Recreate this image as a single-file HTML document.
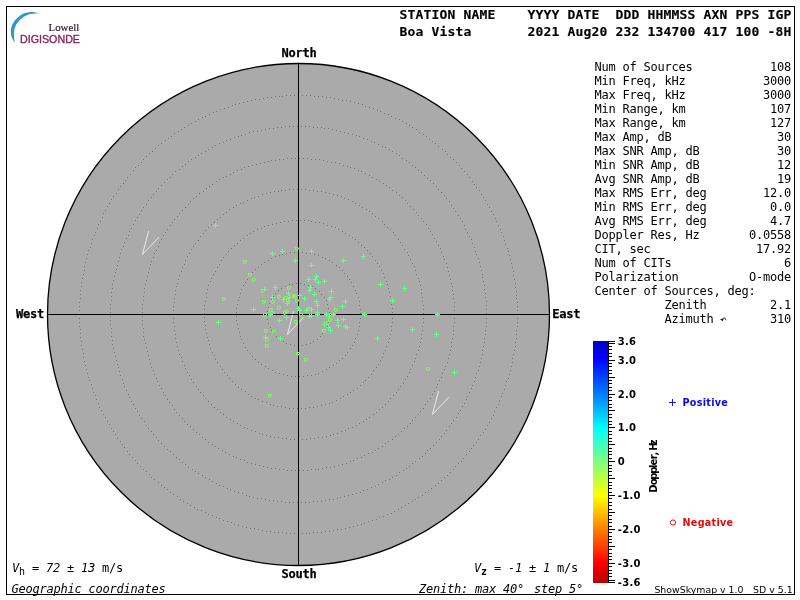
<!DOCTYPE html>
<html lang="en"><head><meta charset="utf-8"><title>Digisonde Skymap - Boa Vista</title>
<style>
html,body{margin:0;padding:0;background:#fff;width:800px;height:600px;overflow:hidden}
svg{display:block;will-change:transform}
.m{font-family:"DejaVu Sans Mono","Liberation Mono",monospace;font-size:12px;letter-spacing:-0.2246px;fill:#000;white-space:pre}
.mb{font-family:"DejaVu Sans Mono","Liberation Mono",monospace;font-size:12px;font-weight:bold;letter-spacing:-0.2246px;fill:#000;stroke:#000;stroke-width:0.25px;white-space:pre}
.h{font-family:"DejaVu Sans Mono","Liberation Mono",monospace;font-size:13px;font-weight:bold;letter-spacing:0.1738px;fill:#000;stroke:#000;stroke-width:0.15px;white-space:pre}
.i{font-style:oblique}
.sb{font-family:"DejaVu Sans","Liberation Sans",sans-serif;font-size:10px;font-weight:bold;fill:#000}
.s{font-family:"DejaVu Sans","Liberation Sans",sans-serif;font-size:9.4px;fill:#000}
</style></head><body>
<svg width="800" height="600" viewBox="0 0 800 600">
<defs>
<linearGradient id="jet" x1="0" y1="0" x2="0" y2="1">
<stop offset="0.0000" stop-color="rgb(0,0,195)"/>
<stop offset="0.0694" stop-color="rgb(0,0,255)"/>
<stop offset="0.2222" stop-color="rgb(0,128,255)"/>
<stop offset="0.3611" stop-color="rgb(0,255,255)"/>
<stop offset="0.5000" stop-color="rgb(128,255,128)"/>
<stop offset="0.6389" stop-color="rgb(255,255,0)"/>
<stop offset="0.7778" stop-color="rgb(255,128,0)"/>
<stop offset="0.9167" stop-color="rgb(255,0,0)"/>
<stop offset="1.0000" stop-color="rgb(185,0,0)"/>
</linearGradient>
</defs>
<rect x="0" y="0" width="800" height="600" fill="#fff"/>
<circle cx="298.5" cy="314.5" r="251.0" fill="#aaaaaa" stroke="#000" stroke-width="1.3"/>
<path d="M329 314.5h1M329 318.5h1M328 322.5h1M327 326.5h1M325 330.5h1M322 333.5h1M320 336.5h1M317 339.5h1M313 341.5h1M310 343.5h1M306 344.5h1M302 345.5h1M298 345.5h1M294 345.5h1M290 344.5h1M286 343.5h1M283 341.5h1M280 339.5h1M276 336.5h1M274 333.5h1M271 330.5h1M270 327.5h1M268 323.5h1M267 319.5h1M267 315.5h1M267 311.5h1M268 307.5h1M269 303.5h1M271 299.5h1M273 296.5h1M275 293.5h1M278 290.5h1M281 288.5h1M285 286.5h1M289 284.5h1M292 284.5h1M296 283.5h1M300 283.5h1M304 284.5h1M308 285.5h1M312 286.5h1M315 288.5h1M319 291.5h1M321 294.5h1M324 297.5h1M326 300.5h1M327 304.5h1M328 308.5h1M329 312.5h1M360 314.5h1M360 318.5h1M359 322.5h1M359 326.5h1M358 330.5h1M357 334.5h1M355 338.5h1M354 342.5h1M352 345.5h1M350 348.5h1M347 352.5h1M345 355.5h1M342 358.5h1M339 360.5h1M336 363.5h1M333 365.5h1M329 367.5h1M326 369.5h1M322 371.5h1M318 373.5h1M315 374.5h1M311 375.5h1M307 375.5h1M303 376.5h1M299 376.5h1M295 376.5h1M291 376.5h1M287 375.5h1M283 374.5h1M279 373.5h1M275 372.5h1M272 370.5h1M268 368.5h1M265 366.5h1M261 364.5h1M258 362.5h1M255 359.5h1M252 356.5h1M250 353.5h1M247 350.5h1M245 347.5h1M243 343.5h1M241 339.5h1M240 336.5h1M239 332.5h1M238 328.5h1M237 324.5h1M236 320.5h1M236 316.5h1M236 312.5h1M236 308.5h1M237 304.5h1M238 300.5h1M239 297.5h1M240 293.5h1M241 289.5h1M243 285.5h1M245 282.5h1M247 279.5h1M250 275.5h1M252 272.5h1M255 269.5h1M258 267.5h1M261 264.5h1M264 262.5h1M268 260.5h1M271 258.5h1M275 256.5h1M279 255.5h1M282 254.5h1M286 253.5h1M290 252.5h1M294 252.5h1M298 252.5h1M302 252.5h1M306 253.5h1M310 253.5h1M314 254.5h1M318 255.5h1M322 257.5h1M325 258.5h1M329 260.5h1M332 262.5h1M336 265.5h1M339 267.5h1M342 270.5h1M344 273.5h1M347 276.5h1M349 279.5h1M351 282.5h1M353 286.5h1M355 290.5h1M356 293.5h1M358 297.5h1M359 301.5h1M359 305.5h1M360 309.5h1M360 313.5h1M392 314.5h1M392 318.5h1M392 322.5h1M391 326.5h1M391 330.5h1M390 334.5h1M389 338.5h1M388 342.5h1M386 346.5h1M385 350.5h1M383 353.5h1M382 357.5h1M380 360.5h1M378 364.5h1M376 367.5h1M373 370.5h1M371 374.5h1M368 377.5h1M365 380.5h1M363 382.5h1M360 385.5h1M357 388.5h1M353 390.5h1M350 392.5h1M347 394.5h1M343 396.5h1M340 398.5h1M336 400.5h1M332 402.5h1M329 403.5h1M325 404.5h1M321 405.5h1M317 406.5h1M313 407.5h1M309 407.5h1M305 408.5h1M301 408.5h1M297 408.5h1M293 408.5h1M289 408.5h1M285 407.5h1M281 406.5h1M277 406.5h1M273 405.5h1M270 404.5h1M266 402.5h1M262 401.5h1M258 399.5h1M255 398.5h1M251 396.5h1M248 394.5h1M245 391.5h1M241 389.5h1M238 387.5h1M235 384.5h1M232 381.5h1M229 378.5h1M227 375.5h1M224 372.5h1M222 369.5h1M220 366.5h1M217 362.5h1M215 359.5h1M214 355.5h1M212 352.5h1M210 348.5h1M209 344.5h1M208 340.5h1M207 337.5h1M206 333.5h1M205 329.5h1M205 325.5h1M204 321.5h1M204 317.5h1M204 313.5h1M204 309.5h1M204 305.5h1M205 301.5h1M206 297.5h1M206 293.5h1M207 289.5h1M208 285.5h1M210 281.5h1M211 278.5h1M213 274.5h1M215 271.5h1M217 267.5h1M219 264.5h1M221 260.5h1M223 257.5h1M226 254.5h1M228 251.5h1M231 248.5h1M234 245.5h1M237 243.5h1M240 240.5h1M243 238.5h1M247 235.5h1M250 233.5h1M253 231.5h1M257 229.5h1M261 228.5h1M264 226.5h1M268 225.5h1M272 224.5h1M276 223.5h1M280 222.5h1M284 221.5h1M288 221.5h1M292 220.5h1M296 220.5h1M300 220.5h1M304 220.5h1M308 220.5h1M311 221.5h1M315 222.5h1M319 222.5h1M323 223.5h1M327 225.5h1M331 226.5h1M335 227.5h1M338 229.5h1M342 231.5h1M345 233.5h1M349 235.5h1M352 237.5h1M355 239.5h1M358 242.5h1M361 245.5h1M364 247.5h1M367 250.5h1M370 253.5h1M372 256.5h1M375 260.5h1M377 263.5h1M379 266.5h1M381 270.5h1M383 273.5h1M384 277.5h1M386 281.5h1M387 284.5h1M388 288.5h1M389 292.5h1M390 296.5h1M391 300.5h1M391 304.5h1M392 308.5h1M392 312.5h1M423 314.5h1M423 318.5h1M423 322.5h1M422 326.5h1M422 330.5h1M421 334.5h1M421 338.5h1M420 342.5h1M419 346.5h1M418 350.5h1M416 354.5h1M415 358.5h1M414 361.5h1M412 365.5h1M410 369.5h1M409 372.5h1M407 376.5h1M405 379.5h1M403 383.5h1M400 386.5h1M398 389.5h1M396 392.5h1M393 395.5h1M390 398.5h1M388 401.5h1M385 404.5h1M382 407.5h1M379 409.5h1M376 412.5h1M373 414.5h1M369 417.5h1M366 419.5h1M363 421.5h1M359 423.5h1M356 425.5h1M352 427.5h1M348 428.5h1M345 430.5h1M341 431.5h1M337 433.5h1M333 434.5h1M330 435.5h1M326 436.5h1M322 437.5h1M318 437.5h1M314 438.5h1M310 438.5h1M306 439.5h1M302 439.5h1M298 439.5h1M294 439.5h1M290 439.5h1M286 438.5h1M282 438.5h1M278 437.5h1M274 437.5h1M270 436.5h1M266 435.5h1M262 434.5h1M259 433.5h1M255 431.5h1M251 430.5h1M247 428.5h1M244 427.5h1M240 425.5h1M237 423.5h1M233 421.5h1M230 419.5h1M226 417.5h1M223 414.5h1M220 412.5h1M217 409.5h1M214 407.5h1M211 404.5h1M208 401.5h1M205 398.5h1M203 395.5h1M200 392.5h1M198 389.5h1M196 386.5h1M193 382.5h1M191 379.5h1M189 375.5h1M187 372.5h1M185 368.5h1M184 365.5h1M182 361.5h1M181 357.5h1M179 354.5h1M178 350.5h1M177 346.5h1M176 342.5h1M175 338.5h1M175 334.5h1M174 330.5h1M174 326.5h1M173 322.5h1M173 318.5h1M173 314.5h1M173 310.5h1M173 306.5h1M174 302.5h1M174 298.5h1M175 294.5h1M175 290.5h1M176 286.5h1M177 283.5h1M178 279.5h1M179 275.5h1M181 271.5h1M182 267.5h1M184 264.5h1M185 260.5h1M187 256.5h1M189 253.5h1M191 249.5h1M193 246.5h1M195 243.5h1M198 240.5h1M200 236.5h1M203 233.5h1M205 230.5h1M208 227.5h1M211 224.5h1M214 222.5h1M217 219.5h1M220 217.5h1M223 214.5h1M226 212.5h1M229 209.5h1M233 207.5h1M236 205.5h1M240 203.5h1M243 202.5h1M247 200.5h1M251 198.5h1M254 197.5h1M258 196.5h1M262 194.5h1M266 193.5h1M270 192.5h1M274 191.5h1M278 191.5h1M281 190.5h1M285 190.5h1M289 189.5h1M293 189.5h1M297 189.5h1M301 189.5h1M305 189.5h1M309 190.5h1M313 190.5h1M317 191.5h1M321 191.5h1M325 192.5h1M329 193.5h1M333 194.5h1M337 195.5h1M341 196.5h1M344 198.5h1M348 199.5h1M352 201.5h1M355 203.5h1M359 205.5h1M362 207.5h1M366 209.5h1M369 211.5h1M372 213.5h1M375 216.5h1M378 218.5h1M382 221.5h1M384 224.5h1M387 227.5h1M390 229.5h1M393 232.5h1M395 235.5h1M398 239.5h1M400 242.5h1M402 245.5h1M404 249.5h1M407 252.5h1M408 255.5h1M410 259.5h1M412 263.5h1M414 266.5h1M415 270.5h1M416 274.5h1M418 278.5h1M419 281.5h1M420 285.5h1M421 289.5h1M421 293.5h1M422 297.5h1M422 301.5h1M423 305.5h1M423 309.5h1M423 313.5h1M454 314.5h1M454 318.5h1M454 322.5h1M453 326.5h1M453 330.5h1M453 334.5h1M452 338.5h1M451 342.5h1M451 346.5h1M450 350.5h1M449 354.5h1M448 358.5h1M447 362.5h1M445 366.5h1M444 369.5h1M442 373.5h1M441 377.5h1M439 380.5h1M437 384.5h1M436 387.5h1M434 391.5h1M432 394.5h1M430 398.5h1M427 401.5h1M425 404.5h1M423 408.5h1M420 411.5h1M418 414.5h1M415 417.5h1M412 420.5h1M410 423.5h1M407 426.5h1M404 428.5h1M401 431.5h1M398 434.5h1M395 436.5h1M392 439.5h1M388 441.5h1M385 443.5h1M382 446.5h1M378 448.5h1M375 450.5h1M372 452.5h1M368 453.5h1M364 455.5h1M361 457.5h1M357 458.5h1M353 460.5h1M350 461.5h1M346 463.5h1M342 464.5h1M338 465.5h1M334 466.5h1M330 467.5h1M326 467.5h1M322 468.5h1M318 469.5h1M315 469.5h1M311 469.5h1M307 470.5h1M303 470.5h1M299 470.5h1M295 470.5h1M291 470.5h1M287 470.5h1M283 469.5h1M279 469.5h1M275 468.5h1M271 468.5h1M267 467.5h1M263 466.5h1M259 465.5h1M255 464.5h1M251 463.5h1M247 462.5h1M244 460.5h1M240 459.5h1M236 457.5h1M233 456.5h1M229 454.5h1M225 452.5h1M222 450.5h1M218 448.5h1M215 446.5h1M212 444.5h1M208 442.5h1M205 439.5h1M202 437.5h1M199 434.5h1M196 432.5h1M193 429.5h1M190 426.5h1M187 424.5h1M184 421.5h1M182 418.5h1M179 415.5h1M176 412.5h1M174 409.5h1M172 405.5h1M169 402.5h1M167 399.5h1M165 395.5h1M163 392.5h1M161 388.5h1M159 385.5h1M157 381.5h1M156 378.5h1M154 374.5h1M153 370.5h1M151 367.5h1M150 363.5h1M149 359.5h1M148 355.5h1M147 351.5h1M146 347.5h1M145 343.5h1M144 339.5h1M143 336.5h1M143 332.5h1M143 328.5h1M142 324.5h1M142 320.5h1M142 316.5h1M142 312.5h1M142 308.5h1M142 304.5h1M143 300.5h1M143 296.5h1M144 292.5h1M144 288.5h1M145 284.5h1M146 280.5h1M147 276.5h1M148 272.5h1M149 268.5h1M150 264.5h1M151 261.5h1M153 257.5h1M154 253.5h1M156 250.5h1M158 246.5h1M159 242.5h1M161 239.5h1M163 235.5h1M165 232.5h1M167 229.5h1M170 225.5h1M172 222.5h1M174 219.5h1M177 216.5h1M179 213.5h1M182 210.5h1M185 207.5h1M188 204.5h1M190 201.5h1M193 198.5h1M196 196.5h1M199 193.5h1M203 191.5h1M206 188.5h1M209 186.5h1M212 184.5h1M216 181.5h1M219 179.5h1M223 177.5h1M226 176.5h1M230 174.5h1M233 172.5h1M237 170.5h1M241 169.5h1M244 167.5h1M248 166.5h1M252 165.5h1M256 164.5h1M260 163.5h1M264 162.5h1M268 161.5h1M271 160.5h1M275 160.5h1M279 159.5h1M283 159.5h1M287 158.5h1M291 158.5h1M295 158.5h1M299 158.5h1M303 158.5h1M307 158.5h1M311 159.5h1M315 159.5h1M319 159.5h1M323 160.5h1M327 161.5h1M331 162.5h1M335 162.5h1M339 163.5h1M343 165.5h1M347 166.5h1M350 167.5h1M354 168.5h1M358 170.5h1M361 171.5h1M365 173.5h1M369 175.5h1M372 177.5h1M376 179.5h1M379 181.5h1M383 183.5h1M386 185.5h1M389 187.5h1M392 190.5h1M396 192.5h1M399 195.5h1M402 197.5h1M405 200.5h1M407 203.5h1M410 206.5h1M413 209.5h1M416 212.5h1M418 215.5h1M421 218.5h1M423 221.5h1M426 224.5h1M428 228.5h1M430 231.5h1M432 234.5h1M434 238.5h1M436 241.5h1M438 245.5h1M440 248.5h1M441 252.5h1M443 256.5h1M444 259.5h1M446 263.5h1M447 267.5h1M448 271.5h1M449 275.5h1M450 279.5h1M451 283.5h1M452 286.5h1M452 290.5h1M453 294.5h1M453 298.5h1M454 302.5h1M454 306.5h1M454 310.5h1M486 314.5h1M486 318.5h1M486 322.5h1M486 326.5h1M485 330.5h1M485 334.5h1M484 338.5h1M484 342.5h1M483 346.5h1M482 350.5h1M482 354.5h1M481 358.5h1M480 362.5h1M479 366.5h1M478 370.5h1M476 373.5h1M475 377.5h1M474 381.5h1M472 385.5h1M471 388.5h1M469 392.5h1M467 396.5h1M466 399.5h1M464 403.5h1M462 406.5h1M460 410.5h1M458 413.5h1M456 417.5h1M453 420.5h1M451 423.5h1M449 426.5h1M446 430.5h1M444 433.5h1M441 436.5h1M439 439.5h1M436 442.5h1M433 445.5h1M430 448.5h1M427 450.5h1M425 453.5h1M422 456.5h1M419 458.5h1M415 461.5h1M412 463.5h1M409 466.5h1M406 468.5h1M403 470.5h1M399 472.5h1M396 475.5h1M392 477.5h1M389 479.5h1M385 480.5h1M382 482.5h1M378 484.5h1M375 486.5h1M371 487.5h1M367 489.5h1M363 490.5h1M360 492.5h1M356 493.5h1M352 494.5h1M348 495.5h1M344 496.5h1M340 497.5h1M337 498.5h1M333 499.5h1M329 499.5h1M325 500.5h1M321 501.5h1M317 501.5h1M313 501.5h1M309 502.5h1M305 502.5h1M301 502.5h1M297 502.5h1M293 502.5h1M289 502.5h1M285 502.5h1M281 501.5h1M277 501.5h1M273 500.5h1M269 500.5h1M265 499.5h1M261 498.5h1M257 498.5h1M253 497.5h1M249 496.5h1M246 495.5h1M242 493.5h1M238 492.5h1M234 491.5h1M230 489.5h1M227 488.5h1M223 486.5h1M219 485.5h1M216 483.5h1M212 481.5h1M209 479.5h1M205 477.5h1M202 475.5h1M198 473.5h1M195 471.5h1M192 469.5h1M188 467.5h1M185 464.5h1M182 462.5h1M179 459.5h1M176 457.5h1M173 454.5h1M170 451.5h1M167 449.5h1M164 446.5h1M161 443.5h1M158 440.5h1M156 437.5h1M153 434.5h1M151 431.5h1M148 428.5h1M146 425.5h1M144 421.5h1M141 418.5h1M139 415.5h1M137 411.5h1M135 408.5h1M133 404.5h1M131 401.5h1M129 397.5h1M128 394.5h1M126 390.5h1M124 386.5h1M123 383.5h1M122 379.5h1M120 375.5h1M119 371.5h1M118 367.5h1M117 364.5h1M116 360.5h1M115 356.5h1M114 352.5h1M113 348.5h1M112 344.5h1M112 340.5h1M111 336.5h1M111 332.5h1M111 328.5h1M110 324.5h1M110 320.5h1M110 316.5h1M110 312.5h1M110 308.5h1M110 304.5h1M111 300.5h1M111 296.5h1M111 292.5h1M112 288.5h1M112 284.5h1M113 280.5h1M114 276.5h1M115 272.5h1M116 269.5h1M117 265.5h1M118 261.5h1M119 257.5h1M120 253.5h1M121 249.5h1M123 246.5h1M124 242.5h1M126 238.5h1M128 235.5h1M129 231.5h1M131 228.5h1M133 224.5h1M135 220.5h1M137 217.5h1M139 214.5h1M141 210.5h1M143 207.5h1M146 204.5h1M148 200.5h1M151 197.5h1M153 194.5h1M156 191.5h1M158 188.5h1M161 185.5h1M164 182.5h1M167 179.5h1M170 177.5h1M172 174.5h1M175 171.5h1M179 169.5h1M182 166.5h1M185 164.5h1M188 161.5h1M191 159.5h1M195 157.5h1M198 155.5h1M201 153.5h1M205 151.5h1M208 149.5h1M212 147.5h1M215 145.5h1M219 143.5h1M223 142.5h1M226 140.5h1M230 139.5h1M234 137.5h1M238 136.5h1M241 135.5h1M245 134.5h1M249 132.5h1M253 131.5h1M257 131.5h1M261 130.5h1M265 129.5h1M269 128.5h1M273 128.5h1M277 127.5h1M281 127.5h1M285 126.5h1M289 126.5h1M293 126.5h1M297 126.5h1M301 126.5h1M305 126.5h1M309 126.5h1M313 127.5h1M317 127.5h1M321 127.5h1M324 128.5h1M328 128.5h1M332 129.5h1M336 130.5h1M340 131.5h1M344 132.5h1M348 133.5h1M352 134.5h1M356 135.5h1M359 136.5h1M363 138.5h1M367 139.5h1M371 141.5h1M374 142.5h1M378 144.5h1M382 146.5h1M385 147.5h1M389 149.5h1M392 151.5h1M396 153.5h1M399 155.5h1M402 158.5h1M406 160.5h1M409 162.5h1M412 165.5h1M415 167.5h1M418 170.5h1M421 172.5h1M424 175.5h1M427 178.5h1M430 180.5h1M433 183.5h1M436 186.5h1M438 189.5h1M441 192.5h1M444 195.5h1M446 198.5h1M449 201.5h1M451 205.5h1M453 208.5h1M455 211.5h1M458 215.5h1M460 218.5h1M462 221.5h1M464 225.5h1M465 229.5h1M467 232.5h1M469 236.5h1M471 239.5h1M472 243.5h1M474 247.5h1M475 251.5h1M476 254.5h1M478 258.5h1M479 262.5h1M480 266.5h1M481 270.5h1M482 274.5h1M482 277.5h1M483 281.5h1M484 285.5h1M484 289.5h1M485 293.5h1M485 297.5h1M486 301.5h1M486 305.5h1M486 309.5h1M486 313.5h1M517 314.5h1M517 318.5h1M517 322.5h1M517 326.5h1M516 330.5h1M516 334.5h1M516 338.5h1M515 342.5h1M515 346.5h1M514 350.5h1M513 354.5h1M512 358.5h1M512 362.5h1M511 366.5h1M510 370.5h1M509 374.5h1M508 378.5h1M506 381.5h1M505 385.5h1M504 389.5h1M502 393.5h1M501 396.5h1M499 400.5h1M498 404.5h1M496 407.5h1M494 411.5h1M493 415.5h1M491 418.5h1M489 422.5h1M487 425.5h1M485 429.5h1M483 432.5h1M480 435.5h1M478 439.5h1M476 442.5h1M473 445.5h1M471 448.5h1M469 451.5h1M466 454.5h1M463 458.5h1M461 461.5h1M458 463.5h1M455 466.5h1M453 469.5h1M450 472.5h1M447 475.5h1M444 477.5h1M441 480.5h1M438 483.5h1M435 485.5h1M431 488.5h1M428 490.5h1M425 492.5h1M422 495.5h1M418 497.5h1M415 499.5h1M412 501.5h1M408 503.5h1M405 505.5h1M401 507.5h1M398 509.5h1M394 511.5h1M391 513.5h1M387 514.5h1M383 516.5h1M379 517.5h1M376 519.5h1M372 520.5h1M368 521.5h1M364 523.5h1M361 524.5h1M357 525.5h1M353 526.5h1M349 527.5h1M345 528.5h1M341 529.5h1M337 529.5h1M333 530.5h1M329 531.5h1M325 531.5h1M321 532.5h1M317 532.5h1M313 532.5h1M309 533.5h1M306 533.5h1M302 533.5h1M298 533.5h1M294 533.5h1M290 533.5h1M286 533.5h1M282 532.5h1M278 532.5h1M274 532.5h1M270 531.5h1M266 531.5h1M262 530.5h1M258 529.5h1M254 528.5h1M250 528.5h1M246 527.5h1M242 526.5h1M238 525.5h1M234 524.5h1M231 522.5h1M227 521.5h1M223 520.5h1M219 518.5h1M216 517.5h1M212 515.5h1M208 514.5h1M205 512.5h1M201 510.5h1M197 509.5h1M194 507.5h1M190 505.5h1M187 503.5h1M183 501.5h1M180 499.5h1M177 496.5h1M173 494.5h1M170 492.5h1M167 489.5h1M164 487.5h1M161 485.5h1M158 482.5h1M154 479.5h1M151 477.5h1M149 474.5h1M146 471.5h1M143 469.5h1M140 466.5h1M137 463.5h1M135 460.5h1M132 457.5h1M129 454.5h1M127 451.5h1M124 447.5h1M122 444.5h1M120 441.5h1M117 438.5h1M115 434.5h1M113 431.5h1M111 428.5h1M109 424.5h1M107 421.5h1M105 417.5h1M103 414.5h1M101 410.5h1M99 407.5h1M98 403.5h1M96 399.5h1M95 395.5h1M93 392.5h1M92 388.5h1M91 384.5h1M89 380.5h1M88 377.5h1M87 373.5h1M86 369.5h1M85 365.5h1M84 361.5h1M83 357.5h1M83 353.5h1M82 349.5h1M81 345.5h1M81 341.5h1M80 337.5h1M80 333.5h1M80 329.5h1M79 326.5h1M79 322.5h1M79 318.5h1M79 314.5h1M79 310.5h1M79 306.5h1M79 302.5h1M80 298.5h1M80 294.5h1M80 290.5h1M81 286.5h1M81 282.5h1M82 278.5h1M83 274.5h1M84 270.5h1M84 266.5h1M85 262.5h1M86 258.5h1M87 254.5h1M88 250.5h1M90 247.5h1M91 243.5h1M92 239.5h1M94 235.5h1M95 232.5h1M97 228.5h1M98 224.5h1M100 221.5h1M102 217.5h1M103 213.5h1M105 210.5h1M107 206.5h1M109 203.5h1M111 199.5h1M113 196.5h1M116 193.5h1M118 189.5h1M120 186.5h1M123 183.5h1M125 180.5h1M127 177.5h1M130 174.5h1M133 170.5h1M135 167.5h1M138 165.5h1M141 162.5h1M143 159.5h1M146 156.5h1M149 153.5h1M152 151.5h1M155 148.5h1M158 145.5h1M161 143.5h1M165 140.5h1M168 138.5h1M171 136.5h1M174 133.5h1M178 131.5h1M181 129.5h1M184 127.5h1M188 125.5h1M191 123.5h1M195 121.5h1M198 119.5h1M202 117.5h1M205 116.5h1M209 114.5h1M213 112.5h1M216 111.5h1M220 109.5h1M224 108.5h1M228 107.5h1M232 105.5h1M235 104.5h1M239 103.5h1M243 102.5h1M247 101.5h1M251 100.5h1M255 99.5h1M259 99.5h1M263 98.5h1M267 97.5h1M271 97.5h1M275 96.5h1M279 96.5h1M282 96.5h1M286 95.5h1M290 95.5h1M294 95.5h1M298 95.5h1M302 95.5h1M306 95.5h1M310 95.5h1M314 96.5h1M318 96.5h1M322 96.5h1M326 97.5h1M330 97.5h1M334 98.5h1M338 99.5h1M342 100.5h1M346 100.5h1M350 101.5h1M354 102.5h1M358 103.5h1M362 104.5h1M365 106.5h1M369 107.5h1M373 108.5h1M377 110.5h1M380 111.5h1M384 113.5h1M388 114.5h1M391 116.5h1M395 118.5h1M399 119.5h1M402 121.5h1M406 123.5h1M409 125.5h1M412 127.5h1M416 129.5h1M419 132.5h1M423 134.5h1M426 136.5h1M429 139.5h1M432 141.5h1M435 143.5h1M438 146.5h1M442 149.5h1M445 151.5h1M447 154.5h1M450 157.5h1M453 159.5h1M456 162.5h1M459 165.5h1M461 168.5h1M464 171.5h1M467 174.5h1M469 177.5h1M472 181.5h1M474 184.5h1M476 187.5h1M479 190.5h1M481 194.5h1M483 197.5h1M485 200.5h1M487 204.5h1M489 207.5h1M491 211.5h1M493 214.5h1M495 218.5h1M496 221.5h1M498 225.5h1M500 229.5h1M501 232.5h1M503 236.5h1M504 240.5h1M505 244.5h1M507 248.5h1M508 251.5h1M509 255.5h1M510 259.5h1M511 263.5h1M512 267.5h1M513 271.5h1M513 275.5h1M514 279.5h1M515 283.5h1M515 287.5h1M516 291.5h1M516 295.5h1M516 298.5h1M517 302.5h1M517 306.5h1M517 310.5h1" fill="none" stroke="#707070" stroke-width="1" shape-rendering="crispEdges"/>
<polyline points="148.6,231.1 142.4,254.5 158.8,237.3" fill="none" stroke="#eaeaea" stroke-width="1"/>
<polyline points="293.6,311.1 287.4,334.5 303.8,317.3" fill="none" stroke="#eaeaea" stroke-width="1"/>
<polyline points="438.6,391.1 432.4,414.5 448.8,397.3" fill="none" stroke="#eaeaea" stroke-width="1"/>
<rect x="298" y="63" width="1" height="503" fill="#000"/>
<rect x="48" y="314" width="502" height="1" fill="#000"/>
<g stroke="#66ff8c" stroke-width="1" fill="none" shape-rendering="crispEdges">
<path d="M213 225.5h5M215.5 223v5M270 253.5h5M272.5 251v5M280 251.5h5M282.5 249v5M293 260.5h5M295.5 258v5M262 289.5h5M264.5 287v5M273 287.5h5M275.5 285v5M309 251.5h5M311.5 249v5M361 256.5h5M363.5 254v5M341 260.5h5M343.5 258v5M309 265.5h5M311.5 263v5M314 276.5h5M316.5 274v5M306 279.5h5M308.5 277v5M313 279.5h5M315.5 277v5M316 282.5h5M318.5 280v5M322 281.5h5M324.5 279v5M378 284.5h5M380.5 282v5M308 287.5h5M310.5 285v5M329 291.5h5M331.5 289v5M402 288.5h5M404.5 286v5M390 300.5h5M392.5 298v5M435 314.5h5M437.5 312v5M410 329.5h5M412.5 327v5M434 334.5h5M436.5 332v5M375 338.5h5M377.5 336v5M452 372.5h5M454.5 370v5M251 309.5h5M253.5 307v5M216 322.5h5M218.5 320v5M270 297.5h5M272.5 295v5M286 293.5h5M288.5 291v5M297 295.5h5M299.5 293v5M281 299.5h5M283.5 297v5M287 297.5h5M289.5 295v5M286 301.5h5M288.5 299v5M285 303.5h5M287.5 301v5M302 298.5h5M304.5 296v5M268 314.5h5M270.5 312v5M296 308.5h5M298.5 306v5M297 310.5h5M299.5 308v5M284 317.5h5M286.5 315v5M277 320.5h5M279.5 318v5M263 337.5h5M265.5 335v5M278 338.5h5M280.5 336v5M307 290.5h5M309.5 288v5M312 294.5h5M314.5 292v5M328 297.5h5M330.5 295v5M327 299.5h5M329.5 297v5M314 301.5h5M316.5 299v5M315 305.5h5M317.5 303v5M343 301.5h5M345.5 299v5M340 306.5h5M342.5 304v5M304 310.5h5M306.5 308v5M309 309.5h5M311.5 307v5M315 312.5h5M317.5 310v5M315 314.5h5M317.5 312v5M307 316.5h5M309.5 314v5M309 315.5h5M311.5 313v5M324 314.5h5M326.5 312v5M327 316.5h5M329.5 314v5M331 314.5h5M333.5 312v5M335 320.5h5M337.5 318v5M341 319.5h5M343.5 317v5M322 324.5h5M324.5 322v5M336 325.5h5M338.5 323v5M343 326.5h5M345.5 324v5M345 327.5h5M347.5 325v5M326 327.5h5M328.5 325v5M328 330.5h5M330.5 328v5M362 314.5h5M364.5 312v5"/>
</g>
<g stroke="#84f466" stroke-width="1" fill="none" shape-rendering="crispEdges">
<path stroke-opacity="0.4" d="M298 247.5h1M295 250.5h1M297 250.5h1M298 249.5h1M246 260.5h1M243 263.5h1M245 263.5h1M246 262.5h1M251 273.5h1M248 276.5h1M250 276.5h1M251 275.5h1M255 278.5h1M252 281.5h1M254 281.5h1M255 280.5h1M290 286.5h1M287 289.5h1M289 289.5h1M290 288.5h1M429 367.5h1M426 370.5h1M428 370.5h1M429 369.5h1M225 297.5h1M222 300.5h1M224 300.5h1M225 299.5h1M264 289.5h1M261 292.5h1M263 292.5h1M264 291.5h1M280 295.5h1M277 298.5h1M279 298.5h1M280 297.5h1M295 294.5h1M292 297.5h1M294 297.5h1M295 296.5h1M296 295.5h1M293 298.5h1M295 298.5h1M296 297.5h1M287 296.5h1M284 299.5h1M286 299.5h1M287 298.5h1M289 298.5h1M286 301.5h1M288 301.5h1M289 300.5h1M298 299.5h1M295 302.5h1M297 302.5h1M298 301.5h1M265 300.5h1M262 303.5h1M264 303.5h1M265 302.5h1M274 300.5h1M271 303.5h1M273 303.5h1M274 302.5h1M280 306.5h1M277 309.5h1M279 309.5h1M280 308.5h1M272 308.5h1M269 311.5h1M271 311.5h1M272 310.5h1M273 311.5h1M270 314.5h1M272 314.5h1M273 313.5h1M266 313.5h1M263 316.5h1M265 316.5h1M266 315.5h1M286 311.5h1M283 314.5h1M285 314.5h1M286 313.5h1M288 310.5h1M285 313.5h1M287 313.5h1M288 312.5h1M302 313.5h1M299 316.5h1M301 316.5h1M302 315.5h1M310 307.5h1M307 310.5h1M309 310.5h1M310 309.5h1M297 320.5h1M294 323.5h1M296 323.5h1M297 322.5h1M267 329.5h1M264 332.5h1M266 332.5h1M267 331.5h1M275 330.5h1M272 333.5h1M274 333.5h1M275 332.5h1M268 338.5h1M265 341.5h1M267 341.5h1M268 340.5h1M268 344.5h1M265 347.5h1M267 347.5h1M268 346.5h1M299 352.5h1M296 355.5h1M298 355.5h1M299 354.5h1M307 358.5h1M304 361.5h1M306 361.5h1M307 360.5h1M271 394.5h1M268 397.5h1M270 397.5h1M271 396.5h1M337 308.5h1M334 311.5h1M336 311.5h1M337 310.5h1M331 318.5h1M328 321.5h1M330 321.5h1M331 320.5h1M329 321.5h1M326 324.5h1M328 324.5h1M329 323.5h1M325 329.5h1M322 332.5h1M324 332.5h1M325 331.5h1"/>
<path d="M295 247.5h3M295.5 248v2M298 248.5h1M297 249.5h1M296 250.5h1M243 260.5h3M243.5 261v2M246 261.5h1M245 262.5h1M244 263.5h1M248 273.5h3M248.5 274v2M251 274.5h1M250 275.5h1M249 276.5h1M252 278.5h3M252.5 279v2M255 279.5h1M254 280.5h1M253 281.5h1M287 286.5h3M287.5 287v2M290 287.5h1M289 288.5h1M288 289.5h1M426 367.5h3M426.5 368v2M429 368.5h1M428 369.5h1M427 370.5h1M222 297.5h3M222.5 298v2M225 298.5h1M224 299.5h1M223 300.5h1M261 289.5h3M261.5 290v2M264 290.5h1M263 291.5h1M262 292.5h1M277 295.5h3M277.5 296v2M280 296.5h1M279 297.5h1M278 298.5h1M292 294.5h3M292.5 295v2M295 295.5h1M294 296.5h1M293 297.5h1M293 295.5h3M293.5 296v2M296 296.5h1M295 297.5h1M294 298.5h1M284 296.5h3M284.5 297v2M287 297.5h1M286 298.5h1M285 299.5h1M286 298.5h3M286.5 299v2M289 299.5h1M288 300.5h1M287 301.5h1M295 299.5h3M295.5 300v2M298 300.5h1M297 301.5h1M296 302.5h1M262 300.5h3M262.5 301v2M265 301.5h1M264 302.5h1M263 303.5h1M271 300.5h3M271.5 301v2M274 301.5h1M273 302.5h1M272 303.5h1M277 306.5h3M277.5 307v2M280 307.5h1M279 308.5h1M278 309.5h1M269 308.5h3M269.5 309v2M272 309.5h1M271 310.5h1M270 311.5h1M270 311.5h3M270.5 312v2M273 312.5h1M272 313.5h1M271 314.5h1M263 313.5h3M263.5 314v2M266 314.5h1M265 315.5h1M264 316.5h1M283 311.5h3M283.5 312v2M286 312.5h1M285 313.5h1M284 314.5h1M285 310.5h3M285.5 311v2M288 311.5h1M287 312.5h1M286 313.5h1M299 313.5h3M299.5 314v2M302 314.5h1M301 315.5h1M300 316.5h1M307 307.5h3M307.5 308v2M310 308.5h1M309 309.5h1M308 310.5h1M294 320.5h3M294.5 321v2M297 321.5h1M296 322.5h1M295 323.5h1M264 329.5h3M264.5 330v2M267 330.5h1M266 331.5h1M265 332.5h1M272 330.5h3M272.5 331v2M275 331.5h1M274 332.5h1M273 333.5h1M265 338.5h3M265.5 339v2M268 339.5h1M267 340.5h1M266 341.5h1M265 344.5h3M265.5 345v2M268 345.5h1M267 346.5h1M266 347.5h1M296 352.5h3M296.5 353v2M299 353.5h1M298 354.5h1M297 355.5h1M304 358.5h3M304.5 359v2M307 359.5h1M306 360.5h1M305 361.5h1M268 394.5h3M268.5 395v2M271 395.5h1M270 396.5h1M269 397.5h1M334 308.5h3M334.5 309v2M337 309.5h1M336 310.5h1M335 311.5h1M328 318.5h3M328.5 319v2M331 319.5h1M330 320.5h1M329 321.5h1M326 321.5h3M326.5 322v2M329 322.5h1M328 323.5h1M327 324.5h1M322 329.5h3M322.5 330v2M325 330.5h1M324 331.5h1M323 332.5h1"/>
</g>
<text class="mb" x="281.6" y="57">North</text>
<text class="mb" x="281.6" y="578">South</text>
<text class="mb" x="16" y="318">West</text>
<text class="mb" x="552.3" y="318">East</text>
<rect x="6.5" y="6.5" width="788" height="588" fill="none" stroke="#000" stroke-width="1"/>
<path d="M39 13.7 C34 11.3 27 11.5 21 15 C14.5 19 10.5 26 10.8 32 C11 36.5 12.5 40 14.7 42.7 C14.2 39 13.8 35 14.2 31 C15 25 18.5 20.5 23.5 17 C28 14 33.5 13 39 13.7Z" fill="#2f98c6"/>
<text x="48.6" y="30.5" font-family="'Liberation Serif',serif" font-size="10.8px" fill="#2a1c2c" stroke="#2a1c2c" stroke-width="0.2">Lowell</text>
<text transform="translate(20 42.6) scale(1.05 1.0)" font-family="'Liberation Sans',sans-serif" font-size="10.2px" fill="#8c1e55" stroke="#8c1e55" stroke-width="0.3">DIGISONDE</text>
<text class="h" x="399.4" y="19">STATION NAME    YYYY DATE  DDD HHMMSS AXN PPS IGP</text>
<text class="h" x="399.4" y="35.6">Boa Vista       2021 Aug20 232 134700 417 100 -8H</text>
<text class="m" x="594.5" y="71">Num of Sources</text>
<text class="m" x="770" y="71">108</text>
<text class="m" x="594.5" y="85">Min Freq, kHz</text>
<text class="m" x="763" y="85">3000</text>
<text class="m" x="594.5" y="99">Max Freq, kHz</text>
<text class="m" x="763" y="99">3000</text>
<text class="m" x="594.5" y="113">Min Range, km</text>
<text class="m" x="770" y="113">107</text>
<text class="m" x="594.5" y="127">Max Range, km</text>
<text class="m" x="770" y="127">127</text>
<text class="m" x="594.5" y="141">Max Amp, dB</text>
<text class="m" x="777" y="141">30</text>
<text class="m" x="594.5" y="155">Max SNR Amp, dB</text>
<text class="m" x="777" y="155">30</text>
<text class="m" x="594.5" y="169">Min SNR Amp, dB</text>
<text class="m" x="777" y="169">12</text>
<text class="m" x="594.5" y="183">Avg SNR Amp, dB</text>
<text class="m" x="777" y="183">19</text>
<text class="m" x="594.5" y="197">Max RMS Err, deg</text>
<text class="m" x="763" y="197">12.0</text>
<text class="m" x="594.5" y="211">Min RMS Err, deg</text>
<text class="m" x="770" y="211">0.0</text>
<text class="m" x="594.5" y="225">Avg RMS Err, deg</text>
<text class="m" x="770" y="225">4.7</text>
<text class="m" x="594.5" y="239">Doppler Res, Hz</text>
<text class="m" x="749" y="239">0.0558</text>
<text class="m" x="594.5" y="253">CIT, sec</text>
<text class="m" x="756" y="253">17.92</text>
<text class="m" x="594.5" y="267">Num of CITs</text>
<text class="m" x="784" y="267">6</text>
<text class="m" x="594.5" y="281">Polarization</text>
<text class="m" x="749" y="281">O-mode</text>
<text class="m" x="594.5" y="295">Center of Sources, deg:</text>
<text class="m" x="594.5" y="309">          Zenith</text>
<text class="m" x="770" y="309">2.1</text>
<text class="m" x="594.5" y="323">          Azimuth</text>
<text class="m" x="770" y="323">310</text>
<path d="M725.7 320.2 C725.9 317.4 723.3 317.2 722.5 319.4" fill="none" stroke="#222" stroke-width="1"/>
<path d="M720 319.3 L723.6 318.5 L722.9 321.2 Z" fill="#111"/>
<rect x="593" y="341.0" width="15" height="242.0" fill="url(#jet)"/>
<rect x="608" y="341.0" width="1" height="242.0" fill="#000"/>
<path d="M608 582.5h7M608 580.5h7M608 576.5h4M608 573.5h4M608 570.5h4M608 566.5h4M608 563.5h7M608 559.5h4M608 556.5h4M608 553.5h4M608 549.5h4M608 546.5h7M608 542.5h4M608 539.5h4M608 536.5h4M608 532.5h4M608 529.5h7M608 526.5h4M608 522.5h4M608 519.5h4M608 515.5h4M608 512.5h7M608 509.5h4M608 505.5h4M608 502.5h4M608 498.5h4M608 495.5h7M608 492.5h4M608 488.5h4M608 485.5h4M608 482.5h4M608 478.5h7M608 475.5h4M608 471.5h4M608 468.5h4M608 465.5h4M608 461.5h7M608 458.5h4M608 454.5h4M608 451.5h4M608 448.5h4M608 444.5h7M608 441.5h4M608 438.5h4M608 434.5h4M608 431.5h4M608 427.5h7M608 424.5h4M608 421.5h4M608 417.5h4M608 414.5h4M608 410.5h7M608 407.5h4M608 404.5h4M608 400.5h4M608 397.5h4M608 394.5h7M608 390.5h4M608 387.5h4M608 383.5h4M608 380.5h4M608 377.5h7M608 373.5h4M608 370.5h4M608 366.5h4M608 363.5h4M608 360.5h7M608 356.5h4M608 353.5h4M608 349.5h4M608 346.5h4M608 343.5h7M608 341.5h7" stroke="#000" stroke-width="1" fill="none" shape-rendering="crispEdges"/>
<text class="sb" x="617.8" y="344.8" letter-spacing="0.25">3.6</text>
<text class="sb" x="617.8" y="363.8" letter-spacing="0.25">3.0</text>
<text class="sb" x="617.8" y="397.8" letter-spacing="0.25">2.0</text>
<text class="sb" x="617.8" y="430.8" letter-spacing="0.25">1.0</text>
<text class="sb" x="617.8" y="464.8" letter-spacing="0.25">0</text>
<text class="sb" x="617.8" y="498.8" letter-spacing="0.25">-1.0</text>
<text class="sb" x="617.8" y="532.8" letter-spacing="0.25">-2.0</text>
<text class="sb" x="617.8" y="566.8" letter-spacing="0.25">-3.0</text>
<text class="sb" x="617.8" y="585.8" letter-spacing="0.25">-3.6</text>
<text class="sb" transform="translate(657 491.9) rotate(-90)" x="-0.92 6.57 12.06 18.06 23.96 26.5 32.66 36.5 40 41.1 46.7" y="0">Doppler, Hz</text>
<path d="M669 402.5h7M672.5 399v7" stroke="#1010f0" stroke-width="1" fill="none" shape-rendering="crispEdges"/>
<text class="sb" x="682.5" y="405.8" style="fill:#0808ee;font-size:9.6px;letter-spacing:0.3px">Positive</text>
<circle cx="673" cy="522.5" r="2.6" fill="none" stroke="#ee0808" stroke-width="1"/>
<text class="sb" x="682.5" y="525.8" style="fill:#ee0808;font-size:9.6px;letter-spacing:0.3px">Negative</text>
<text class="m" x="12" y="572"><tspan class="i">V</tspan><tspan dy="3.2" style="font-size:10px;letter-spacing:0">h</tspan><tspan dy="-3.2"> = </tspan><tspan class="i">72</tspan> ± <tspan class="i">13</tspan> m/s</text>
<text class="m i" x="11.6" y="593">Geographic coordinates</text>
<text class="m" x="474" y="572"><tspan class="i">V</tspan><tspan dy="3.2" style="font-size:10px;letter-spacing:0;font-weight:bold">z</tspan><tspan dy="-3.2"> = </tspan><tspan class="i">-1</tspan> ± <tspan class="i">1</tspan> m/s</text>
<text class="m i" x="419" y="593">Zenith: max 40°</text>
<text class="m i" x="534" y="593">step 5°</text>
<text class="s" x="654.4" y="593.3">ShowSkymap v 1.0</text>
<text class="s" x="792.7" y="593.3" text-anchor="end">SD v 5.1</text>
</svg>
</body></html>
